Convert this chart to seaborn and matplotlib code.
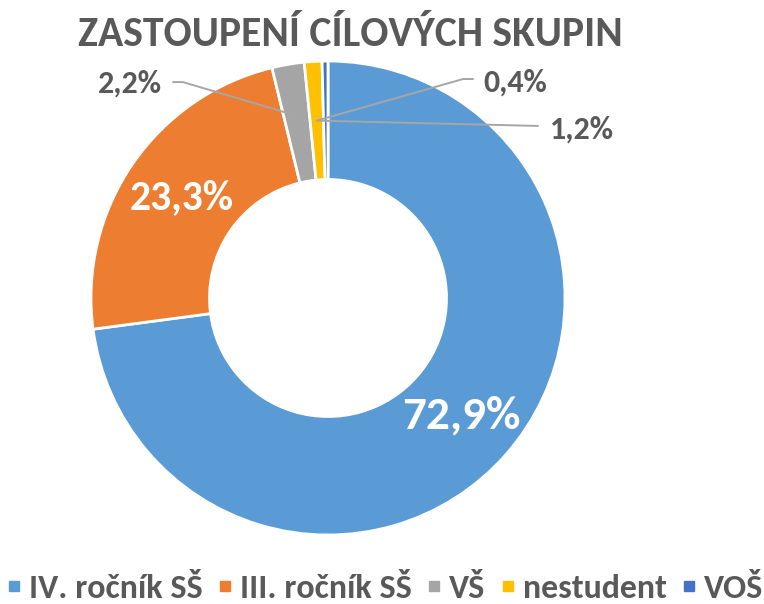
import numpy as np
import matplotlib
matplotlib.use("Agg")
import matplotlib.pyplot as plt
from matplotlib.lines import Line2D
import seaborn as sns

# ---------------- Data ----------------
categories = ["IV. ročník SŠ", "III. ročník SŠ", "VŠ", "nestudent", "VOŠ"]
values = [72.9, 23.3, 2.2, 1.2, 0.4]
labels = ["72,9%", "23,3%", "2,2%", "1,2%", "0,4%"]
colors = ["#5B9BD5", "#ED7D31", "#A5A5A5", "#FFC000", "#4472C4"]

sns.set_theme(style="white")
plt.rcParams["font.family"] = ["Carlito", "DejaVu Sans"]
text_color = "#595959"
line_color = "#A6A6A6"

fig = plt.figure(figsize=(7.64, 6.04), dpi=100)
r_px = 237
ax = fig.add_axes([(328 - r_px) / 764, (306 - r_px) / 604, 2 * r_px / 764, 2 * r_px / 604])

wedges, _ = ax.pie(values, colors=colors, startangle=90, counterclock=False,
                   radius=1, wedgeprops=dict(width=0.5, edgecolor="white", linewidth=2))
ax.set_xlim(-1, 1)
ax.set_ylim(-1, 1)
ax.axis("off")

# mid angles of the wedges
mids = [np.deg2rad((w.theta1 + w.theta2) / 2) for w in wedges]

def anchor(i, r=0.75):
    return r * np.cos(mids[i]), r * np.sin(mids[i])

# big labels inside the wedges
x, y = anchor(0)
ax.text(x, y, labels[0], color="white", fontsize=34, fontweight="bold", ha="center", va="center")
x, y = anchor(1)
ax.text(x, y, labels[1], color="white", fontsize=30, fontweight="bold", ha="center", va="center")

# small labels with leader lines
small = dict(color=text_color, fontsize=23, fontweight="bold", va="center")
# VŠ
gx, gy = anchor(2, 0.78)
ax.plot([gx, -0.612, -0.654], [gy, 0.911, 0.911], color=line_color, lw=1.4)
ax.text(-0.700, 0.905, labels[2], ha="right", **small)
# nestudent
nx, ny = anchor(3)
ax.plot([nx, 0.886], [ny, 0.726], color=line_color, lw=1.4)
ax.text(0.937, 0.710, labels[3], ha="left", **small)
# VOŠ
ax.plot([nx, 0.570, 0.612], [ny, 0.924, 0.924], color=line_color, lw=1.4)
ax.text(0.654, 0.908, labels[4], ha="left", **small)

fig.text(350 / 764, 1 - 35 / 604, "ZASTOUPENÍ CÍLOVÝCH SKUPIN", color=text_color,
         fontsize=30, fontweight="bold", ha="center", va="center")

# square legend markers
handles = [Line2D([], [], marker="s", linestyle="", color=c, markersize=7.5) for c in colors]
fig.legend(handles, categories, loc="center", bbox_to_anchor=(386 / 764, 1 - 588 / 604),
           ncol=5, frameon=False, handlelength=0.3,
           handletextpad=0.3, columnspacing=0.5, labelcolor=text_color,
           prop={"weight": "bold", "size": 24.5})

fig.savefig("out.png", dpi=100)
